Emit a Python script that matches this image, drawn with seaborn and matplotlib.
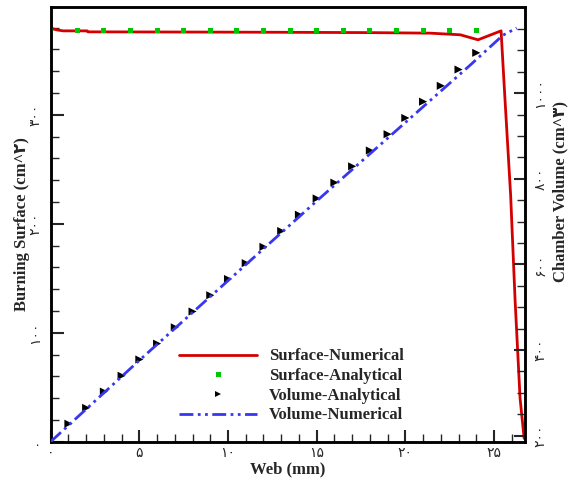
import matplotlib
matplotlib.use("Agg")
import matplotlib.pyplot as plt
from matplotlib.ticker import FixedLocator, MultipleLocator
from matplotlib.lines import Line2D
from matplotlib.font_manager import FontProperties
import pandas as pd
import seaborn as sns

# ---------------- data ----------------
surf_num_x = [0, 0.34, 0.7, 2.05, 2.1, 8.3, 13.0, 18.0, 21.4, 23.1, 24.1, 25.4,
              25.6, 25.94, 26.19, 26.47, 26.7]
surf_num_y = [379.6, 378.0, 377.1, 377.1, 376.2, 376.0, 375.8, 375.5, 375.0, 373.5,
              368.9, 377.1, 320.0, 226.0, 130.0, 40.0, 3.0]

surf_an_x = [0, 1.5, 3, 4.5, 6, 7.5, 9, 10.5, 12, 13.5, 15, 16.5, 18, 19.5, 21, 22.5, 24]
surf_an_y = [377, 377, 377, 377, 377, 377, 377, 377, 377, 377, 377, 377, 377, 377,
             377, 377, 377]

vol_an_x = [1, 2, 3, 4, 5, 6, 7, 8, 9, 10, 11, 12, 13, 14, 15, 16, 17, 18, 19, 20,
            21, 22, 23, 24]
vol_an_y = [228, 265, 303, 340, 378, 415, 453, 490, 528, 566, 603, 641, 678, 716,
            754, 791, 829, 866, 904, 942, 980, 1017, 1055, 1094]

vol_num_x = [0, 5, 10, 15, 19.72, 23.65, 25.5, 26.28]
vol_num_y = [186, 376, 562, 748, 921, 1065, 1135, 1152]

x_ticks = [0, 5, 10, 15, 20, 25]
x_tick_labels = ["۰", "۵", "۱۰", "۱۵", "۲۰", "۲۵"]
y1_ticks = [0, 100, 200, 300]
y1_tick_labels = ["۰", "۱۰۰", "۲۰۰", "۳۰۰"]
y2_ticks = [200, 400, 600, 800, 1000]
y2_tick_labels = ["۲۰۰", "۴۰۰", "۶۰۰", "۸۰۰", "۱۰۰۰"]

labels = ["Surface-Numerical", "Surface-Analytical", "Volume-Analytical", "Volume-Numerical"]

# ---------------- style ----------------
sns.set_style("white")
RED = "#D40000"
GREEN = "#00C800"
BLUE = "#3737F0"
BLUE_DASH = (0, (5, 1.6, 1, 1.6, 1, 1.6))

fig = plt.figure(figsize=(5.69, 4.80), dpi=100)
ax = fig.add_axes([0.0891, 0.0798, 0.8336, 0.9056])
ax2 = ax.twinx()

df_sn = pd.DataFrame({"x": surf_num_x, "y": surf_num_y})
df_sa = pd.DataFrame({"x": surf_an_x, "y": surf_an_y})
df_va = pd.DataFrame({"x": vol_an_x, "y": vol_an_y})
df_vn = pd.DataFrame({"x": vol_num_x, "y": vol_num_y})

sns.lineplot(data=df_sn, x="x", y="y", ax=ax, color=RED, linewidth=2.0,
             estimator=None, sort=False, zorder=3)
sns.scatterplot(data=df_sa, x="x", y="y", ax=ax, marker="s", s=13, color=GREEN,
                edgecolor="none", linewidth=0, zorder=4)
sns.scatterplot(data=df_va, x="x", y="y", ax=ax2, marker=">", s=34, color="black",
                edgecolor="none", linewidth=0, zorder=3)
sns.lineplot(data=df_vn, x="x", y="y", ax=ax2, color=BLUE, linewidth=2.0,
             estimator=None, sort=False, zorder=4, linestyle=BLUE_DASH)

ax.set_xlim(0, 26.75)
ax.set_ylim(0, 399)
ax2.set_ylim(186, 1201)

tick_font = FontProperties(family="DejaVu Sans", size=10)

ax.xaxis.set_major_locator(FixedLocator(x_ticks))
ax.xaxis.set_minor_locator(MultipleLocator(1))
ax.set_xticklabels(x_tick_labels, fontproperties=tick_font)

ax.yaxis.set_major_locator(FixedLocator(y1_ticks))
ax.yaxis.set_minor_locator(MultipleLocator(20))
ax.set_yticklabels(y1_tick_labels, fontproperties=tick_font, rotation=90, va="center")

ax2.yaxis.set_major_locator(FixedLocator(y2_ticks))
ax2.yaxis.set_minor_locator(MultipleLocator(50))
ax2.set_yticklabels(y2_tick_labels, fontproperties=tick_font, rotation=90, va="center")

ax.tick_params(axis="x", which="major", direction="in", length=9, width=1.5, pad=3,
               bottom=True, top=False)
ax.tick_params(axis="x", which="minor", direction="in", length=6, width=1.0,
               bottom=True, top=False)
ax.tick_params(axis="y", which="major", direction="in", length=9, width=1.5, pad=6,
               left=True, right=False)
ax.tick_params(axis="y", which="minor", direction="in", length=6, width=1.0,
               left=True, right=False)
ax2.tick_params(axis="y", which="major", direction="in", length=8, width=1.5, pad=6,
                left=False, right=True)
ax2.tick_params(axis="y", which="minor", direction="in", length=5.5, width=1.0,
                left=False, right=True)

for a in (ax, ax2):
    for sp in a.spines.values():
        sp.set_linewidth(1.8)
        sp.set_color("black")
        sp.set_visible(True)

label_font = dict(family=["Liberation Serif", "DejaVu Sans"], weight="bold", size=12)
ax.set_xlabel("Web (mm)", fontdict=label_font, labelpad=1)
ax.set_ylabel("Burning Surface (cm^۲)", fontdict=label_font)
ax.yaxis.set_label_coords(-0.044, 0.5)
ax2.set_ylabel("Chamber Volume (cm^۳)", fontdict=label_font, rotation=90)
ax2.yaxis.set_label_coords(1.057, 0.575)

handles = [
    Line2D([], [], color=RED, linewidth=2.0),
    Line2D([], [], color=GREEN, marker="s", markersize=3.6, linestyle="none",
           markeredgewidth=0),
    Line2D([], [], color="black", marker=">", markersize=5, linestyle="none",
           markeredgewidth=0),
    Line2D([], [], color=BLUE, linewidth=2.0, linestyle=BLUE_DASH),
]
ax2.legend(handles, labels, loc="center", bbox_to_anchor=(0.5123, 0.196),
           bbox_transform=fig.transFigure, frameon=False,
           prop=FontProperties(family="Liberation Serif", weight="bold", size=12),
           handlelength=4.7, handletextpad=0.7, labelspacing=0.22, borderpad=0)

fig.savefig("out.png", dpi=100)
